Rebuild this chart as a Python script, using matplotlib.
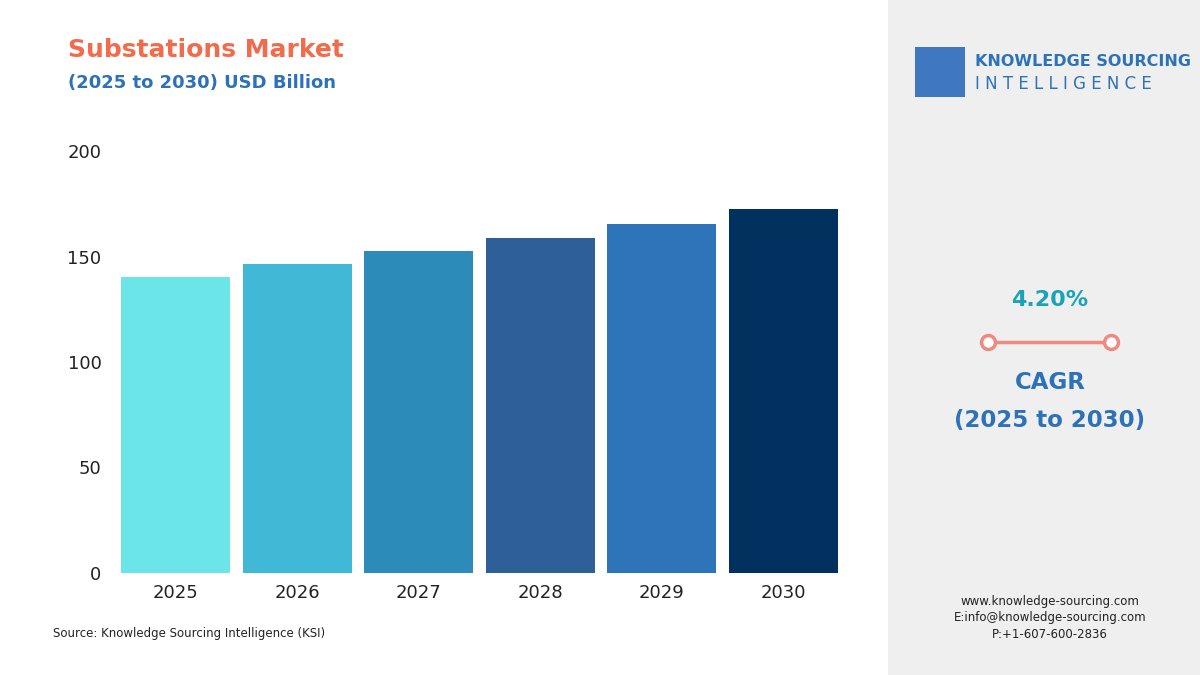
#!/usr/bin/env python3
"""Substations market bar chart (2025 to 2030, USD Billion)."""

import matplotlib.pyplot as plt
from matplotlib.patches import Rectangle

YEARS = ["2025", "2026", "2027", "2028", "2029", "2030"]
VALUES = [140.3, 146.4, 152.6, 158.8, 165.4, 172.5]
COLORS = ["#6CE5E8", "#41B8D5", "#2D8BBA", "#2F5F98", "#2D74B8", "#02305F"]
Y_TICKS = [0, 50, 100, 150, 200]

fig = plt.figure(figsize=(12, 6.75), dpi=100)
fig.patch.set_facecolor("white")

# right side panel
fig.patches.append(Rectangle((888 / 1200, 0), 312 / 1200, 1, transform=fig.transFigure,
                             facecolor="#EFEFEF", edgecolor="none", zorder=0))

ax = fig.add_axes([121 / 1200, (675 - 573) / 675, (838 - 121) / 1200, 422 / 675])
x = range(len(YEARS))
ax.bar(x, VALUES, width=0.895, color=COLORS, zorder=2)
ax.set_xlim(-0.45, len(YEARS) - 0.55)
ax.set_ylim(0, 200)
ax.set_yticks(Y_TICKS)
ax.set_xticks(list(x))
ax.set_xticklabels(YEARS)
for s in ax.spines.values():
    s.set_visible(False)
ax.tick_params(length=0, labelsize=13, colors="#222222")
ax.tick_params(axis="y", pad=14)
ax.tick_params(axis="x", pad=8)
ax.set_facecolor("none")

fig.text(68 / 1200, 1 - 50 / 675, "Substations Market", fontsize=18, fontweight="bold",
         color="#F26B4A", va="center")
fig.text(68 / 1200, 1 - 83 / 675, "(2025 to 2030) USD Billion", fontsize=13, fontweight="bold",
         color="#2D72B8", va="center")
fig.text(53 / 1200, 1 - 634 / 675, "Source: Knowledge Sourcing Intelligence (KSI)", fontsize=8.5,
         color="#222222", va="center")

# logo text
fig.text(975 / 1200, 1 - 62 / 675, "KNOWLEDGE SOURCING", fontsize=11.5, fontweight="bold",
         color="#2D72B8", va="center")
fig.text(975 / 1200, 1 - 84 / 675, "I N T E L L I G E N C E", fontsize=12,
         color="#2D72B8", va="center")
fig.patches.append(Rectangle((915 / 1200, 1 - 97 / 675), 50 / 1200, 50 / 675,
                             transform=fig.transFigure, facecolor="#3F78C0", edgecolor="none"))

# CAGR block
cx = 1050 / 1200
fig.text(cx, 1 - 300 / 675, "4.20%", fontsize=16, fontweight="bold", color="#1AA3B8",
         ha="center", va="center")
fig.lines.append(plt.Line2D([988 / 1200, 1111 / 1200], [1 - 342 / 675] * 2, transform=fig.transFigure,
                            color="#F08A80", lw=2.5))
for px in (988, 1111):
    fig.lines.append(plt.Line2D([px / 1200], [1 - 342 / 675], transform=fig.transFigure,
                                marker="o", markersize=10, markerfacecolor="white",
                                markeredgecolor="#F08A80", markeredgewidth=2.5))
fig.text(cx, 1 - 383 / 675, "CAGR", fontsize=16.5, fontweight="bold", color="#2D72B8",
         ha="center", va="center")
fig.text(cx, 1 - 420 / 675, "(2025 to 2030)", fontsize=16.5, fontweight="bold", color="#2D72B8",
         ha="center", va="center")

for i, line in enumerate(["www.knowledge-sourcing.com", "E:info@knowledge-sourcing.com",
                          "P:+1-607-600-2836"]):
    fig.text(cx, 1 - (602 + 16 * i) / 675, line, fontsize=8.5, color="#222222",
             ha="center", va="center")

fig.savefig("out.png", dpi=100)
